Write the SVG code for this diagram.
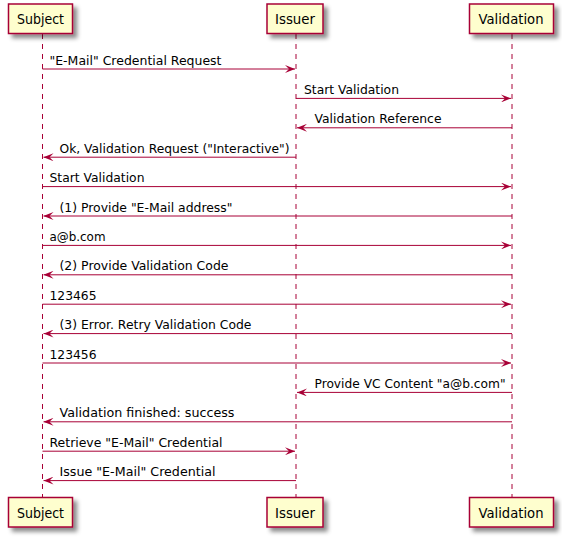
<svg xmlns="http://www.w3.org/2000/svg" width="562" height="537" viewBox="0 0 562 537">
<defs>
<filter id="sh" x="-20%" y="-20%" width="150%" height="160%">
<feGaussianBlur in="SourceAlpha" stdDeviation="2" result="b"/>
<feColorMatrix in="b" type="matrix" values="0 0 0 0 0  0 0 0 0 0  0 0 0 0 0  0 0 0 0.45 0" result="c"/>
<feOffset in="c" dx="4" dy="4" result="o"/>
<feMerge><feMergeNode in="o"/><feMergeNode in="SourceGraphic"/></feMerge>
</filter>
<marker id="ah" viewBox="0 0 10 8" refX="10" refY="4" markerWidth="10" markerHeight="8" markerUnits="userSpaceOnUse" orient="auto">
<polygon points="0,0 10,4 0,8 4,4" fill="#A80036"/>
</marker>
</defs>
<style>
.box{fill:#FEFECE;stroke:#A80036;stroke-width:1.5}
.life{stroke:#A80036;stroke-width:1;stroke-dasharray:5,5}
.msg{stroke:#A80036;stroke-width:1;fill:none;marker-end:url(#ah)}
.pt{font-family:"DejaVu Sans","Liberation Sans",sans-serif;font-size:14px;fill:#000;text-anchor:middle}
.mt{font-family:"DejaVu Sans","Liberation Sans",sans-serif;font-size:13px;fill:#000}
</style>
<rect width="562" height="537" fill="#FFFFFF"/>
<g id="lifelines">
<line class="life" x1="42.5" y1="34" x2="42.5" y2="497"/>
<line class="life" x1="296" y1="34" x2="296" y2="497"/>
<line class="life" x1="512" y1="34" x2="512" y2="497"/>
</g>
<g id="subject">
<rect class="box" x="8.5" y="4" width="64" height="29.5" filter="url(#sh)"/>
<text class="pt" x="40.5" y="24" textLength="47" lengthAdjust="spacingAndGlyphs">Subject</text>
<rect class="box" x="8.5" y="497.5" width="64" height="29.5" filter="url(#sh)"/>
<text class="pt" x="40.5" y="517.5" textLength="47" lengthAdjust="spacingAndGlyphs">Subject</text>
</g>
<g id="issuer">
<rect class="box" x="267" y="4" width="56" height="29.5" filter="url(#sh)"/>
<text class="pt" x="295" y="24" textLength="40" lengthAdjust="spacingAndGlyphs">Issuer</text>
<rect class="box" x="267" y="497.5" width="56" height="29.5" filter="url(#sh)"/>
<text class="pt" x="295" y="517.5" textLength="40" lengthAdjust="spacingAndGlyphs">Issuer</text>
</g>
<g id="validation">
<rect class="box" x="469.5" y="4" width="84" height="29.5" filter="url(#sh)"/>
<text class="pt" x="511" y="24" textLength="65" lengthAdjust="spacingAndGlyphs">Validation</text>
<rect class="box" x="469.5" y="497.5" width="84" height="29.5" filter="url(#sh)"/>
<text class="pt" x="511" y="517.5" textLength="65" lengthAdjust="spacingAndGlyphs">Validation</text>
</g>
<g id="connectors">
<line class="msg" x1="42.5" y1="69" x2="295" y2="69"/>
<line class="msg" x1="296" y1="98.4" x2="511" y2="98.4"/>
<line class="msg" x1="512" y1="127.8" x2="297" y2="127.8"/>
<line class="msg" x1="296" y1="157.2" x2="43.5" y2="157.2"/>
<line class="msg" x1="42.5" y1="186.6" x2="511" y2="186.6"/>
<line class="msg" x1="512" y1="216" x2="43.5" y2="216"/>
<line class="msg" x1="42.5" y1="245.4" x2="511" y2="245.4"/>
<line class="msg" x1="512" y1="274.8" x2="43.5" y2="274.8"/>
<line class="msg" x1="42.5" y1="304.2" x2="511" y2="304.2"/>
<line class="msg" x1="512" y1="333.6" x2="43.5" y2="333.6"/>
<line class="msg" x1="42.5" y1="363" x2="511" y2="363"/>
<line class="msg" x1="512" y1="392.4" x2="297" y2="392.4"/>
<line class="msg" x1="512" y1="421.8" x2="43.5" y2="421.8"/>
<line class="msg" x1="42.5" y1="451.2" x2="295" y2="451.2"/>
<line class="msg" x1="296" y1="480.6" x2="43.5" y2="480.6"/>
</g>
<g id="labels">
<text class="mt" x="49.5" y="64.5" textLength="172" lengthAdjust="spacingAndGlyphs">"E-Mail" Credential Request</text>
<text class="mt" x="304" y="93.9" textLength="95" lengthAdjust="spacingAndGlyphs">Start Validation</text>
<text class="mt" x="314.5" y="123.3" textLength="127" lengthAdjust="spacingAndGlyphs">Validation Reference</text>
<text class="mt" x="59.5" y="152.7" textLength="230" lengthAdjust="spacingAndGlyphs">Ok, Validation Request ("Interactive")</text>
<text class="mt" x="49.5" y="182.1" textLength="95" lengthAdjust="spacingAndGlyphs">Start Validation</text>
<text class="mt" x="59.5" y="211.5" textLength="173" lengthAdjust="spacingAndGlyphs">(1) Provide "E-Mail address"</text>
<text class="mt" x="49.5" y="240.9" textLength="56" lengthAdjust="spacingAndGlyphs">a@b.com</text>
<text class="mt" x="59.5" y="270.3" textLength="169" lengthAdjust="spacingAndGlyphs">(2) Provide Validation Code</text>
<text class="mt" x="49.5" y="299.7" textLength="47" lengthAdjust="spacingAndGlyphs">123465</text>
<text class="mt" x="59.5" y="329.1" textLength="192" lengthAdjust="spacingAndGlyphs">(3) Error. Retry Validation Code</text>
<text class="mt" x="49.5" y="358.5" textLength="47" lengthAdjust="spacingAndGlyphs">123456</text>
<text class="mt" x="314.5" y="387.9" textLength="191" lengthAdjust="spacingAndGlyphs">Provide VC Content "a@b.com"</text>
<text class="mt" x="59.5" y="417.3" textLength="175" lengthAdjust="spacingAndGlyphs">Validation finished: success</text>
<text class="mt" x="49.5" y="446.7" textLength="173" lengthAdjust="spacingAndGlyphs">Retrieve "E-Mail" Credential</text>
<text class="mt" x="59.5" y="476.1" textLength="156" lengthAdjust="spacingAndGlyphs">Issue "E-Mail" Credential</text>
</g>
</svg>
